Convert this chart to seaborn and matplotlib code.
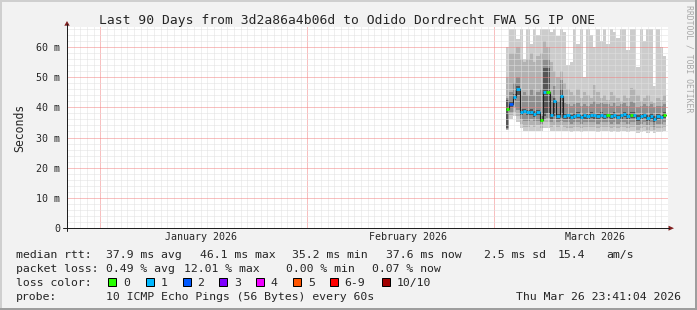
import numpy as np
import pandas as pd
import matplotlib
matplotlib.use("Agg")
import matplotlib.pyplot as plt
import matplotlib.dates as mdates
import seaborn as sns
from matplotlib.lines import Line2D
from matplotlib.patches import Rectangle, Polygon
from matplotlib.ticker import MultipleLocator, FuncFormatter

# ---------------- data ----------------
title = "Last 90 Days from 3d2a86a4b06d to Odido Dordrecht FWA 5G IP ONE"
end_time = "2026-03-26 23:41:04"
data_start = "2026-03-02 18:00"
step = "12h"

median = [39.3, 41.0, 43.5, 46.0, 38.5, 38.8, 38.3, 38.6, 37.8, 38.3,
          35.8, 45.0, 45.0, 37.3, 42.0, 37.0, 43.8, 37.0, 37.3, 36.8,
          37.2, 37.5, 36.8, 37.3, 37.0, 37.5, 37.3, 37.0, 37.6, 37.2,
          37.4, 37.0, 37.6, 36.8, 37.3, 37.7, 37.2, 37.5, 37.5, 36.5,
          37.0, 37.4, 36.6, 37.2, 36.2, 37.0, 36.8, 37.6]
loss = [0, 2, 1, 1, 1, 1, 1, 1, 1, 1,
        0, 1, 0, 1, 1, 1, 1, 1, 1, 1,
        1, 1, 1, 1, 1, 1, 1, 1, 1, 1,
        0, 1, 1, 1, 1, 1, 1, 0, 1, 1,
        1, 1, 1, 1, 1, 1, 1, 0]
smoke_hi1 = [60, 66, 66, 62.5, 66, 56, 66, 61, 66, 64,
             66, 66, 66, 65, 66, 63.5, 66, 65, 54, 55,
             66, 61, 66, 50, 66, 64, 60, 66, 62, 66,
             61, 66, 65, 63, 66, 66, 59, 66, 66, 53.5,
             66, 62, 66, 66, 47, 66, 60, 57]
smoke_hi2 = [50, 58, 58, 60, 56, 55, 56, 58, 55, 57,
             58, 62, 60, 55, 52, 50, 52, 48, 46, 45,
             44, 46, 43, 45, 44, 43, 47.5, 45, 43, 44,
             42.5, 45, 44, 43, 42, 44, 43, 46.5, 46, 44,
             42, 43, 44, 42, 41.5, 43, 42.5, 44]
smoke_hi3 = [43, 45, 48, 50, 44, 45, 44, 46, 44, 45,
             46, 56, 56, 44, 47, 42, 49, 41.5, 41, 40.5,
             41, 41.5, 40.5, 41, 40.5, 41, 42, 41, 41.5, 41,
             41, 40.5, 41.5, 40.5, 41, 41.5, 40.5, 42, 41.5, 40,
             40.5, 41, 40.5, 41, 40, 40.5, 40.5, 41]
smoke_hi4 = [42.5, 42, 44.5, 47, 39.5, 39.5, 39, 39.5, 38.8, 39.2,
             37, 53, 53, 38.2, 43, 38, 46, 38, 38.2, 37.6,
             38, 38.4, 37.6, 38.2, 37.8, 38.4, 38.2, 37.8, 38.5, 38,
             38.2, 37.8, 38.5, 37.6, 38.2, 38.5, 38, 38.4, 38.4, 37.4,
             37.8, 38.2, 37.5, 38, 37, 37.8, 37.6, 38.5]
smoke_lo4 = [33, 40, 42.5, 44, 37.5, 37.8, 37.3, 37.6, 36.8, 37.3,
             35, 37, 38, 36.3, 37, 36, 36.5, 36, 36.3, 35.8,
             36.2, 36.5, 35.8, 36.3, 36, 36.5, 36.3, 36, 36.6, 36.2,
             36.4, 36, 36.6, 35.8, 36.3, 36.7, 36.2, 36.5, 36.5, 35.5,
             36, 36.4, 35.6, 36.2, 35.2, 36, 35.8, 36.6]
smoke_lo3 = [32.8, 38.5, 40, 39, 36, 35.5, 35.5, 36, 35.5, 35.5,
             34.5, 36, 36.5, 35, 36, 35, 35.5, 35, 35, 34.5,
             35, 35, 34.5, 35, 35, 35, 35, 34.5, 35, 35,
             35, 34.5, 35, 34.5, 35, 35, 34.5, 35, 35, 34,
             34.5, 35, 34, 35, 33.5, 34.5, 34.5, 35]
smoke_lo2 = [32.6, 37.5, 38.5, 37, 34.5, 33.5, 33.5, 34, 33.5, 34,
             33, 35, 35, 33.5, 34, 33.5, 34, 33.5, 33, 33,
             33.5, 33.5, 33, 33.5, 33.5, 33.5, 33.5, 33, 33.5, 33.5,
             33.5, 33, 33.5, 33, 33.5, 33.5, 33, 33.5, 33.5, 32.5,
             33, 33.5, 32.5, 33.5, 32.5, 33, 33, 33.5]
smoke_lo1 = [32.5, 36, 37, 35, 33, 32, 32, 32, 32, 32,
             32, 33, 33, 32, 32, 32, 32, 32, 32, 31.8,
             32, 32, 31.8, 32, 32, 32, 32, 31.8, 32, 32,
             32, 31.8, 32, 31.8, 32, 32, 31.8, 32, 32, 31.5,
             31.8, 32, 31.5, 32, 31.5, 31.8, 31.8, 32]

month_labels = ["January 2026", "February 2026", "March 2026"]
month_label_dates = ["2026-01-16", "2026-02-16", "2026-03-16"]
y_ticks = [0, 10, 20, 30, 40, 50, 60]

loss_names = ["0", "1", "2", "3", "4", "5", "6-9", "10/10"]
loss_colors = ["#26ff00", "#00b8ff", "#0059ff", "#7e00ff",
               "#f000ff", "#ff5500", "#ff0000", "#a10000"]

rtt_stats = ["37.9 ms avg", "46.1 ms max", "35.2 ms min", "37.6 ms now", "2.5 ms sd", "15.4", "am/s"]
loss_stats = ["0.49 % avg", "12.01 % max", "0.00 % min", "0.07 % now"]
probe_text = "10 ICMP Echo Pings (56 Bytes) every 60s"
stamp_text = "Thu Mar 26 23:41:04 2026"

# ---------------- style ----------------
sns.set_style("white")
plt.rcParams["font.family"] = ["DejaVu Sans Mono"]
MONO = "DejaVu Sans Mono"

W, H = 697, 310
fig = plt.figure(figsize=(W / 100, H / 100), dpi=100, facecolor="#f2f2f2")


def fx(px):
    return px / W


def fy(py):
    return 1 - py / H


AX_L, AX_R, AX_T, AX_B = 67, 668, 26.5, 228
ax = fig.add_axes([fx(AX_L), fy(AX_B), (AX_R - AX_L) / W, (AX_B - AX_T) / H])
ax.set_facecolor("white")

end = pd.Timestamp(end_time)
begin = end - pd.Timedelta(days=90)
ax.set_xlim(mdates.date2num(begin), mdates.date2num(end))
ax.set_ylim(0, 66.8)

edges = pd.date_range(data_start, periods=len(median) + 1, freq=step)
xe = mdates.date2num(edges)


def ext(a):
    a = np.asarray(a, dtype=float)
    return np.append(a, a[-1])


bands = [(smoke_lo1, smoke_hi1, "#cccccc"),
         (smoke_lo2, smoke_hi2, "#b2b2b2"),
         (smoke_lo3, smoke_hi3, "#8e8e8e"),
         (smoke_lo4, smoke_hi4, "#555555")]
for lo, hi, col in bands:
    ax.fill_between(xe, ext(lo), ext(hi), step="post", color=col, lw=0, zorder=1)

# median: thin dark step line + loss-coloured bars
df = pd.DataFrame({"time": xe, "median": ext(median)})
sns.lineplot(data=df, x="time", y="median", drawstyle="steps-post",
             color="#202020", lw=0.8, ax=ax, zorder=4, estimator=None)
for i, (m, l) in enumerate(zip(median, loss)):
    ax.hlines(m, xe[i], xe[i + 1], color=loss_colors[l], lw=2.0, zorder=5)

# grid
ax.yaxis.set_major_locator(MultipleLocator(10))
ax.yaxis.set_minor_locator(MultipleLocator(2))
ax.xaxis.set_major_locator(mdates.MonthLocator())
ax.xaxis.set_minor_locator(mdates.DayLocator())
ax.set_axisbelow(False)
ax.grid(which="minor", color="#e0e0e0", ls=(0, (1, 1)), lw=0.72)
ax.grid(which="major", color=(0.95, 0.5, 0.5, 0.55), ls=(0, (1, 1)), lw=0.72)
ax.set_yticks(y_ticks)
ax.yaxis.set_major_formatter(FuncFormatter(lambda v, p: "0" if v == 0 else f"{int(v)} m"))
ax.set_xticklabels([])
ax.tick_params(which="major", length=4, width=0.72, direction="inout", color="#1f1f1f",
               labelsize=7.2, pad=3.0)
ax.tick_params(which="minor", length=2.2, width=0.72, direction="inout", color="#1f1f1f")
for lab in ax.get_yticklabels():
    lab.set_fontfamily(MONO)
for s in ax.spines.values():
    s.set_visible(False)
ax.set_xlabel("")
ax.set_ylabel("")

for lab, d in zip(month_labels, month_label_dates):
    ax.text(mdates.date2num(pd.Timestamp(d)), (AX_B - 237.5) / (AX_B - AX_T), lab,
            transform=ax.get_xaxis_transform(), ha="center", va="center",
            fontsize=7.2, family=MONO)

# axis lines and arrows
axis_col = "#1f1f1f"
fig.add_artist(Line2D([fx(63), fx(669)], [fy(AX_B), fy(AX_B)], color=axis_col, lw=0.72,
                      transform=fig.transFigure))
fig.add_artist(Line2D([fx(AX_L), fx(AX_L)], [fy(231), fy(24)], color=axis_col, lw=0.72,
                      transform=fig.transFigure))
arrow_col = "#801f1f"
fig.add_artist(Polygon([[fx(64.3), fy(25.7)], [fx(69.7), fy(25.7)], [fx(67), fy(21)]],
                       closed=True, color=arrow_col, transform=fig.transFigure, lw=0))
fig.add_artist(Polygon([[fx(668.5), fy(225.7)], [fx(668.5), fy(230.7)], [fx(674), fy(228.2)]],
                       closed=True, color=arrow_col, transform=fig.transFigure, lw=0))

# frame shading
fig.add_artist(Line2D([0, 1], [fy(0.7), fy(0.7)], color="#cfcfcf", lw=1.44, transform=fig.transFigure))
fig.add_artist(Line2D([fx(0.7), fx(0.7)], [0, 1], color="#cfcfcf", lw=1.44, transform=fig.transFigure))
fig.add_artist(Line2D([0, 1], [fy(309.0), fy(309.0)], color="#9e9e9e", lw=1.44, transform=fig.transFigure))
fig.add_artist(Line2D([fx(696.0), fx(696.0)], [0, 1], color="#9e9e9e", lw=1.44, transform=fig.transFigure))

# title and side texts
fig.text(fx(347.5), fy(24), title, ha="center", va="baseline", fontsize=9.4, family=MONO)
fig.text(fx(20), fy(127.5), "Seconds", rotation=90, ha="center", va="center", fontsize=8.3, family=MONO)
fig.text(fx(688.5), fy(5), "RRDTOOL / TOBI OETIKER", rotation=270, ha="center", va="top",
         fontsize=5.9, color="#a8a8a8", family=MONO)

# legend rows
LF = 8.27
rows_y = [258, 272, 285.7, 299.5]
fig.text(fx(15.5), fy(rows_y[0]), "median rtt:", fontsize=LF, va="baseline", family=MONO)
for s, x in zip(rtt_stats, [106.5, 199.5, 292.5, 385.5, 483.5, 557.5, 606.5]):
    fig.text(fx(x), fy(rows_y[0]), s, fontsize=LF, va="baseline", family=MONO)
fig.text(fx(15.5), fy(rows_y[1]), "packet loss:", fontsize=LF, va="baseline", family=MONO)
for s, x in zip(loss_stats, [106.5, 184.0, 286.2, 372.2]):
    fig.text(fx(x), fy(rows_y[1]), s, fontsize=LF, va="baseline", family=MONO)
fig.text(fx(15.5), fy(rows_y[2]), "loss color:", fontsize=LF, va="baseline", family=MONO)
for name, col, bx in zip(loss_names, loss_colors,
                         [108.3, 145.7, 182.7, 219.3, 256.0, 293.3, 330.0, 381.7]):
    fig.add_artist(Rectangle((fx(bx), fy(286.3)), 8 / W, 8 / H, transform=fig.transFigure,
                             facecolor=col, edgecolor="black", lw=0.72))
    fig.text(fx(bx + 14.5), fy(rows_y[2]), name, fontsize=LF, va="baseline", family=MONO)
fig.text(fx(15.5), fy(rows_y[3]), "probe:", fontsize=LF, va="baseline", family=MONO)
fig.text(fx(106.5), fy(rows_y[3]), probe_text, fontsize=LF, va="baseline", family=MONO)
fig.text(fx(680.5), fy(rows_y[3]), stamp_text, fontsize=LF, va="baseline", ha="right", family=MONO)

fig.savefig("out.png", dpi=100, facecolor=fig.get_facecolor())
